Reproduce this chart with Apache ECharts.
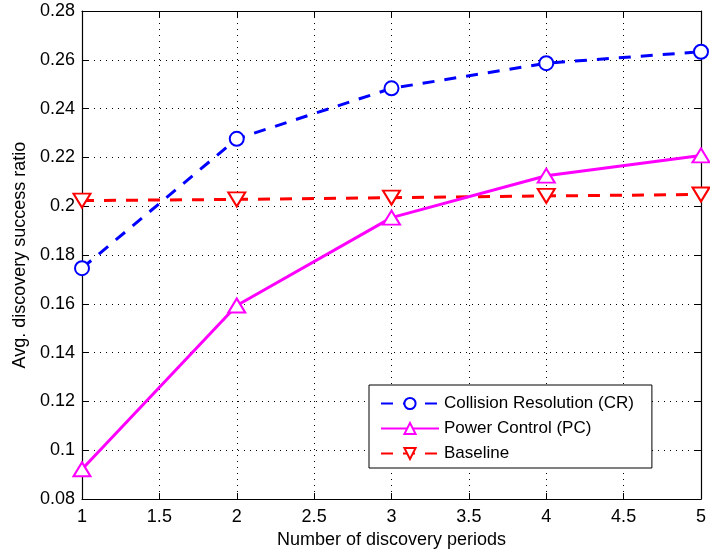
<!DOCTYPE html>
<html>
<head>
<meta charset="utf-8">
<script src="https://cdn.jsdelivr.net/npm/echarts@6/dist/echarts.min.js"></script>
<style>
  html, body { margin: 0; padding: 0; background: #fff; }
  #chart { width: 710px; height: 554px; }
</style>
</head>
<body>
<div id="chart"></div>
<script>
// Number of discovery periods
const periods = [1, 2, 3, 4, 5];
// Average discovery success ratio per scheme
const collisionResolution = [0.1746, 0.2276, 0.2483, 0.2586, 0.2633];
const powerControl = [0.0922, 0.1593, 0.1953, 0.2125, 0.2208];
const baseline = [0.2023, 0.2028, 0.2035, 0.2042, 0.2048];

const seriesNames = ['Collision Resolution (CR)', 'Power Control (PC)', 'Baseline'];

const FONT = '"Liberation Sans", Arial, Helvetica, sans-serif';

function pairs(values) {
  return periods.map((p, i) => [p, values[i]]);
}

const gridLineStyle = { color: '#000', width: 1, type: [1, 5] };
const boxLine = { show: true, onZero: false, lineStyle: { color: '#000', width: 1.2 } };
const innerTick = { show: true, inside: true, length: 6, lineStyle: { color: '#000', width: 1 } };
const dashed = [12, 10];

const chart = echarts.init(document.getElementById('chart'), null, { renderer: 'canvas' });

chart.setOption({
  animation: false,
  backgroundColor: '#fff',
  textStyle: { fontFamily: FONT },
  grid: { left: 82, right: 9, top: 11, bottom: 55, containLabel: false },
  xAxis: [
    {
      type: 'value', min: 1, max: 5, interval: 0.5,
      name: 'Number of discovery periods',
      nameLocation: 'middle', nameGap: 31,
      nameTextStyle: { color: '#000', fontSize: 18, fontFamily: FONT },
      axisLine: boxLine, axisTick: innerTick,
      axisLabel: { color: '#000', fontSize: 18, fontFamily: FONT, margin: 9 },
      splitLine: { show: true, lineStyle: gridLineStyle }
    },
    {
      type: 'value', position: 'top', min: 1, max: 5, interval: 0.5,
      axisLine: boxLine, axisTick: innerTick,
      axisLabel: { show: false }, splitLine: { show: false }
    }
  ],
  yAxis: [
    {
      type: 'value', min: 0.08, max: 0.28, interval: 0.02,
      name: 'Avg. discovery success ratio',
      nameLocation: 'middle', nameGap: 53, nameRotate: 90,
      nameTextStyle: { color: '#000', fontSize: 18, fontFamily: FONT },
      axisLine: boxLine, axisTick: innerTick,
      axisLabel: { color: '#000', fontSize: 18, fontFamily: FONT, margin: 7 },
      splitLine: { show: true, lineStyle: gridLineStyle }
    },
    {
      type: 'value', position: 'right', min: 0.08, max: 0.28, interval: 0.02,
      axisLine: boxLine, axisTick: innerTick,
      axisLabel: { show: false }, splitLine: { show: false }
    }
  ],
  legend: {
    orient: 'vertical',
    left: 369, top: 385,
    padding: [10, 18, 6, 11],
    itemGap: 8,
    itemWidth: 58, itemHeight: 14,
    backgroundColor: '#fff',
    borderColor: '#000', borderWidth: 1,
    textStyle: { color: '#000', fontSize: 17, fontFamily: FONT },
    data: seriesNames
  },
  series: [
    {
      name: seriesNames[0], type: 'line', data: pairs(collisionResolution),
      color: '#0000ff',
      lineStyle: { color: '#0000ff', width: 3, type: dashed },
      symbol: 'emptyCircle', symbolSize: 14,
      itemStyle: { color: '#0000ff', borderColor: '#0000ff', borderWidth: 2.5 },
      z: 4
    },
    {
      name: seriesNames[1], type: 'line', data: pairs(powerControl),
      color: '#ff00ff',
      lineStyle: { color: '#ff00ff', width: 3, type: 'solid' },
      symbol: 'emptyTriangle', symbolSize: [17, 14],
      itemStyle: { color: '#ff00ff', borderColor: '#ff00ff', borderWidth: 2.5 },
      z: 3
    },
    {
      name: seriesNames[2], type: 'line', data: pairs(baseline),
      color: '#ff0000',
      lineStyle: { color: '#ff0000', width: 3, type: dashed },
      symbol: 'emptyTriangle', symbolSize: [17, 14], symbolRotate: 180,
      itemStyle: { color: '#ff0000', borderColor: '#ff0000', borderWidth: 2.5 },
      z: 2
    }
  ]
});
</script>
</body>
</html>
